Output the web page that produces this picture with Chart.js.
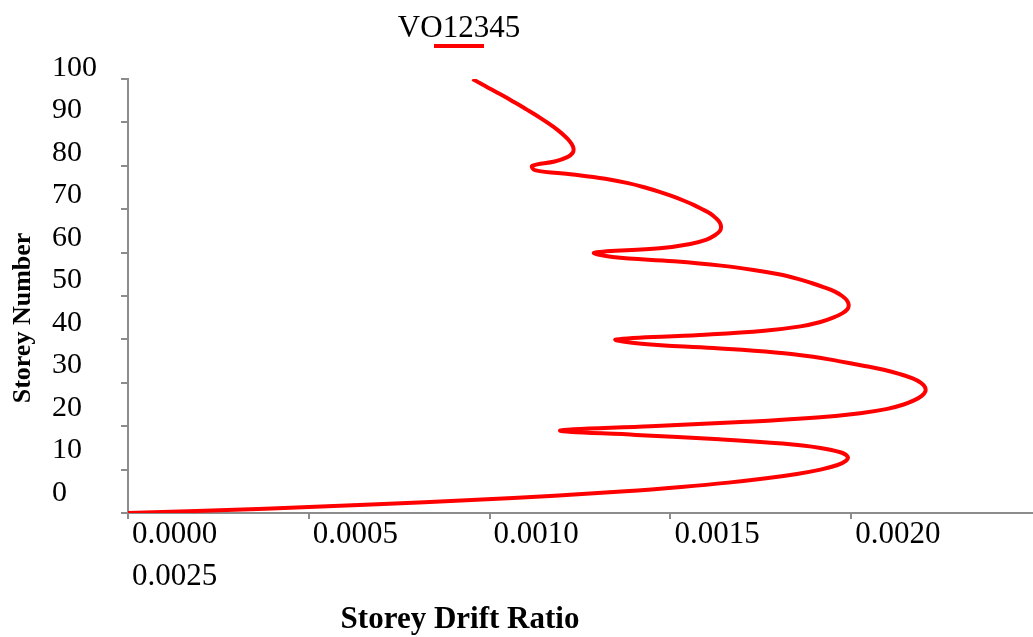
<!DOCTYPE html>
<html>
<head>
<meta charset="utf-8">
<title>Storey Drift Ratio</title>
<script src="https://cdn.jsdelivr.net/npm/chart.js@4/dist/chart.umd.min.js"></script>
<style>
  html, body { margin: 0; padding: 0; background: #ffffff; }
  canvas { display: block; }
</style>
</head>
<body>
<canvas id="driftChart" width="1033" height="637"></canvas>
<script>
// Storey levels and the drift ratio read at each level
const storeys = [
  0, 1, 2, 3, 4, 5, 6, 7, 8, 9,
  10, 11, 12, 13, 14, 15, 16, 17, 18, 19,
  20, 21, 22, 23, 24, 25, 26, 27, 28, 29,
  30, 31, 32, 33, 34, 35, 36, 37, 38, 39,
  40, 41, 42, 43, 44, 45, 46, 47, 48, 49,
  50, 51, 52, 53, 54, 55, 56, 57, 58, 59,
  60, 61, 62, 63, 64, 65, 66, 67, 68, 69,
  70, 71, 72, 73, 74, 75, 76, 77, 78, 79,
  80, 81, 82, 83, 84, 85, 86, 87, 88, 89,
  90, 91, 92, 93, 94, 95, 96, 97, 98, 99,
  100
];
const driftVO12345 = [
  0.000000, 0.000380, 0.000690, 0.000950, 0.001180, 0.001375, 0.001530, 0.001660, 0.001765, 0.001850,
  0.001915, 0.001960, 0.001985, 0.001990, 0.001970, 0.001915, 0.001810, 0.001635, 0.001405, 0.001195,
  0.001445, 0.001710, 0.001905, 0.002025, 0.002100, 0.002145, 0.002175, 0.002195, 0.002205, 0.002204,
  0.002193, 0.002170, 0.002135, 0.002090, 0.002030, 0.001965, 0.001895, 0.001790, 0.001620, 0.001420,
  0.001350, 0.001580, 0.001760, 0.001860, 0.001915, 0.001950, 0.001975, 0.001990, 0.001993, 0.001988,
  0.001975, 0.001955, 0.001925, 0.001890, 0.001850, 0.001800, 0.001730, 0.001640, 0.001510, 0.001340,
  0.001290, 0.001470, 0.001555, 0.001600, 0.001623, 0.001637, 0.001640, 0.001636, 0.001625, 0.001610,
  0.001588, 0.001564, 0.001536, 0.001505, 0.001470, 0.001430, 0.001383, 0.001320, 0.001230, 0.001125,
  0.001118, 0.001180, 0.001215, 0.001230, 0.001232, 0.001227, 0.001218, 0.001206, 0.001192, 0.001176,
  0.001159, 0.001141, 0.001122, 0.001102, 0.001082, 0.001061, 0.001040, 0.001018, 0.000996, 0.000974,
  0.000953
];
const seriesName = 'VO12345';

// Axis ticks
const storeyTicks = [0, 10, 20, 30, 40, 50, 60, 70, 80, 90, 100];
const driftTicks = [0, 0.0005, 0.0010, 0.0015, 0.0020, 0.0025];

// Axis titles
const xTitle = 'Storey Drift Ratio';
const yTitle = 'Storey Number';

const axisGrey = '#8c8c8c';
const serif = "'Liberation Serif', 'Times New Roman', serif";
const fmtDrift = v => Number(v).toFixed(4);

// Legend entry and axis titles, placed where the layout wants them
const captionsPlugin = {
  id: 'captions',
  afterDraw(chart, args, opts) {
    const ctx = chart.ctx;
    const ds = chart.data.datasets[0];
    ctx.save();
    ctx.fillStyle = '#000000';

    // legend: series name with its line sample underneath
    ctx.font = '31px ' + serif;
    ctx.textAlign = 'center';
    ctx.textBaseline = 'alphabetic';
    ctx.fillText(ds.label, opts.legend.x, opts.legend.baseline);
    ctx.strokeStyle = ds.borderColor;
    ctx.lineWidth = ds.borderWidth;
    ctx.beginPath();
    ctx.moveTo(opts.legend.x - opts.legend.sample / 2, opts.legend.lineY);
    ctx.lineTo(opts.legend.x + opts.legend.sample / 2, opts.legend.lineY);
    ctx.stroke();

    // horizontal axis title
    ctx.font = 'bold 31px ' + serif;
    ctx.fillText(xTitle, opts.xTitle.x, opts.xTitle.baseline);

    // vertical axis title
    ctx.font = 'bold 26px ' + serif;
    ctx.translate(opts.yTitle.baseline, opts.yTitle.y);
    ctx.rotate(-Math.PI / 2);
    ctx.fillText(yTitle, 0, 0);
    ctx.restore();
  }
};

const points = storeys.map((s, i) => ({ x: driftVO12345[i], y: s }));

new Chart(document.getElementById('driftChart'), {
  type: 'line',
  data: {
    datasets: [{
      label: seriesName,
      data: points,
      xAxisID: 'x',
      yAxisID: 'y',
      borderColor: '#ff0000',
      borderWidth: 4,
      pointRadius: 0,
      pointHoverRadius: 0,
      fill: false,
      tension: 0.4
    }]
  },
  options: {
    indexAxis: 'y',
    responsive: false,
    animation: false,
    devicePixelRatio: 1,
    layout: { padding: { top: 79, right: 1, bottom: 0, left: 52 } },
    plugins: {
      legend: { display: false },
      title: { display: false },
      tooltip: { enabled: false },
      captions: {
        legend: { x: 459, baseline: 37, lineY: 46, sample: 50 },
        xTitle: { x: 460, baseline: 628 },
        yTitle: { baseline: 30, y: 318 }
      }
    },
    scales: {
      x: {
        type: 'linear',
        position: 'bottom',
        min: 0,
        max: 0.0025,
        afterBuildTicks: s => { s.ticks = driftTicks.map(v => ({ value: v })); },
        afterFit: s => { s.height = 124; },
        ticks: {
          autoSkip: false,
          maxRotation: 0,
          align: 'start',
          labelOffset: 4,
          padding: -5,
          color: '#000000',
          font: { family: serif, size: 31, lineHeight: 1.36 },
          callback: (v, i) => {
            const last = driftTicks.length - 1;
            if (i === 0) return [fmtDrift(driftTicks[0]), fmtDrift(driftTicks[last])];
            if (i === last) return '';
            return fmtDrift(v);
          }
        },
        grid: {
          display: true,
          drawOnChartArea: false,
          drawTicks: true,
          tickLength: 6,
          lineWidth: 2,
          color: c => (c.index === driftTicks.length - 1 ? 'rgba(0,0,0,0)' : axisGrey)
        },
        border: { display: true, color: axisGrey, width: 2 }
      },
      y: {
        type: 'linear',
        position: 'left',
        weight: 0,
        min: 0,
        max: 100,
        afterBuildTicks: s => { s.ticks = storeyTicks.map(v => ({ value: v })); },
        afterFit: s => { s.width = 7; },
        ticks: { display: false, autoSkip: false },
        grid: {
          display: true,
          drawOnChartArea: false,
          drawTicks: true,
          tickLength: 7,
          lineWidth: 2,
          color: axisGrey
        },
        border: { display: true, color: axisGrey, width: 2 }
      },
      // storey labels sit a little above their tick marks
      yLabels: {
        type: 'linear',
        position: 'left',
        weight: 1,
        bounds: 'data',
        min: -4.7,
        max: 97.4,
        afterBuildTicks: s => { s.ticks = storeyTicks.map(v => ({ value: v })); },
        afterFit: s => { s.width = 69; },
        ticks: {
          autoSkip: false,
          crossAlign: 'far',
          padding: 0,
          color: '#000000',
          font: { family: serif, size: 30 },
          callback: v => String(v)
        },
        grid: { display: false, drawTicks: false },
        border: { display: false }
      }
    }
  },
  plugins: [captionsPlugin]
});
</script>
</body>
</html>
